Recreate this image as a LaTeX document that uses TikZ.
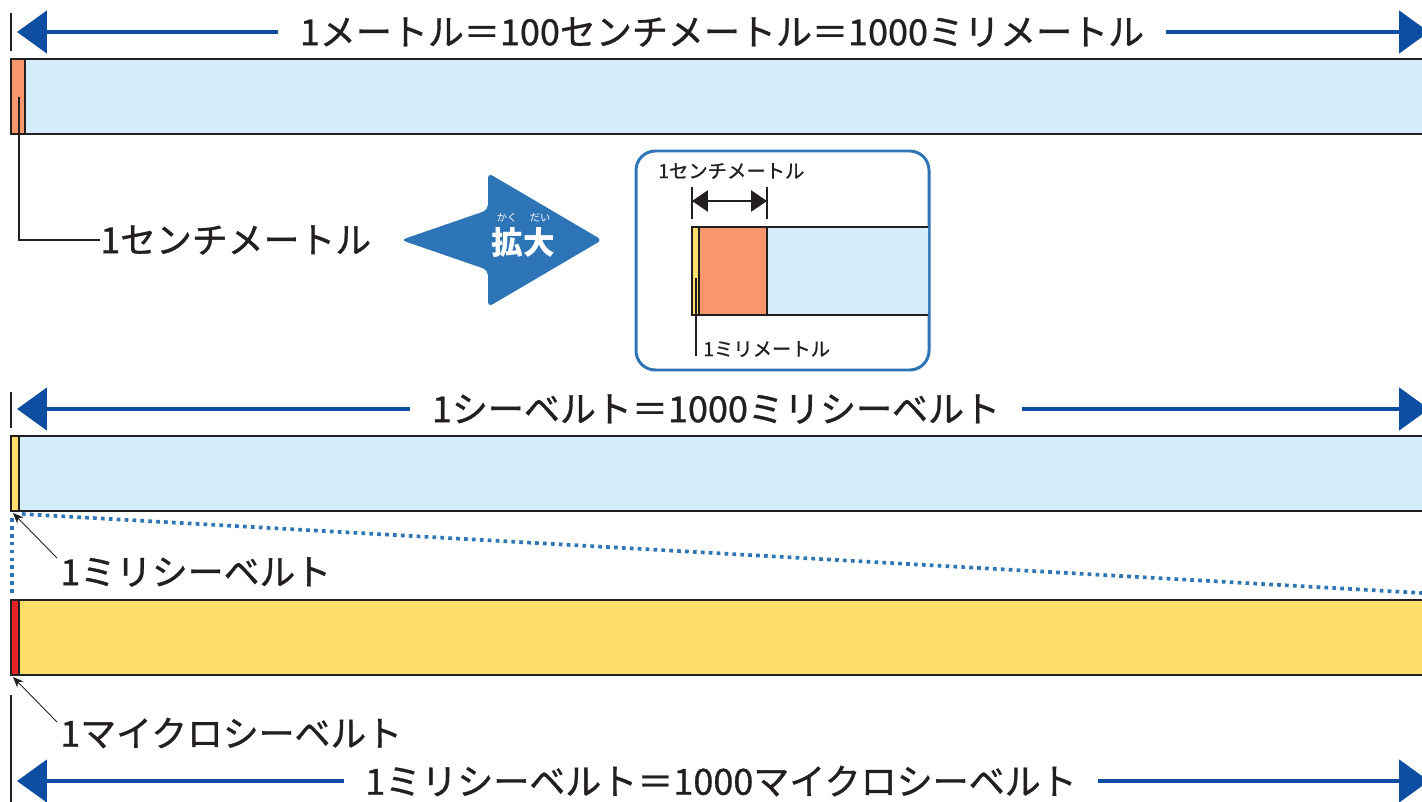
\documentclass[tikz,border=0pt]{standalone}
\usepackage{fontspec}
\newfontfamily\jp[FakeBold=0.9]{Noto Sans CJK JP}
\newfontfamily\jpb{Noto Sans CJK JP}
\usetikzlibrary{arrows.meta}
\definecolor{dimblue}{HTML}{0D4EA2}
\definecolor{barblue}{HTML}{D5ECFA}
\definecolor{orng}{HTML}{F7976B}
\definecolor{yel}{HTML}{FFDE6B}
\definecolor{rd}{HTML}{E4232A}
\definecolor{midblue}{HTML}{2E75B8}
\definecolor{ink}{HTML}{231F20}
\begin{document}
\begin{tikzpicture}[x=0.02cm,y=-0.02cm,
  big/.style={font=\jp\fontsize{20.5}{24}\selectfont, text=ink, inner xsep=12pt, inner ysep=0pt},
  label/.style={font=\jp\fontsize{20.4}{24}\selectfont, text=ink, inner sep=0pt, anchor=west},
  small/.style={font=\jp\fontsize{11}{13}\selectfont, text=ink, inner sep=0pt, anchor=west},
  dimline/.style={draw=dimblue, line width=2.3pt, -{Triangle[length=17pt,width=24pt]}},
  barline/.style={draw=ink, line width=1.1pt},
  tickline/.style={draw=ink, line width=0.9pt},
  leadline/.style={draw=ink, line width=0.85pt},
  pointer/.style={draw=ink, line width=0.5pt, -{Stealth[length=6pt,width=5pt]}},
  dotline/.style={draw=midblue, line width=2.1pt, dash pattern=on 2.1pt off 2.4pt},
  smalldim/.style={draw=ink, line width=1pt, {Triangle[length=9pt,width=12pt]}-{Triangle[length=9pt,width=12pt]}}
]
\useasboundingbox (0,0) rectangle (1422,801);
\clip (0,0) rectangle (1422,801);

% ---------- top section ----------
\node[big] (t1) at (722,32) {1メートル＝100センチメートル＝1000ミリメートル};
\coordinate (t1l) at (17,32);
\coordinate (t1r) at (1429,32);
\draw[dimline] (t1.west) -- (t1l);
\draw[dimline] (t1.east) -- (t1r);
\draw[tickline] (11,13) -- (11,51);

\fill[barblue] (11,59) rectangle (1440,134);
\fill[orng] (11,59) rectangle (25,134);
\draw[barline] (25,59) -- (25,134);
\draw[barline] (1440,59) -- (11,59) -- (11,134) -- (1440,134);

\node[label] (cm) at (100,240) {1センチメートル};
\coordinate (cmtop) at (19,97);
\draw[leadline] (cmtop) |- (cm.west);

% ---------- enlarge arrow ----------
\fill[midblue, rounded corners=3pt] (401,240) -- (488,210) -- (488,173) -- (602,240) -- (488,307) -- (488,270) -- cycle;
\node[font=\jpb\fontsize{18}{20}\selectfont\bfseries, text=white, inner sep=0pt] (kd) at (523,242) {拡大};
\node[font=\jpb\fontsize{5.8}{7}\selectfont, text=white, inner sep=0pt] (r1) at (507,218) {かく};
\node[font=\jpb\fontsize{5.8}{7}\selectfont, text=white, inner sep=0pt] (r2) at (540,218) {だい};

% ---------- inset ----------
\draw[midblue, line width=1.7pt, rounded corners=11pt] (636,151) rectangle (929,370);
\begin{scope}
\clip (636,151) rectangle (928,370);
\fill[barblue] (692,227) rectangle (940,315);
\fill[orng] (699,227) rectangle (767,315);
\fill[yel] (692,227) rectangle (699,315);
\draw[barline] (699,227) -- (699,315);
\draw[barline] (767,227) -- (767,315);
\draw[barline] (940,227) -- (692,227) -- (692,315) -- (940,315);
\end{scope}
\node[small] (icm) at (658,171) {1センチメートル};
\coordinate (d1) at (692,201);
\coordinate (d2) at (767,201);
\draw[tickline] (692,187) -- (692,219);
\draw[tickline] (767,187) -- (767,219);
\draw[smalldim] (d1) -- (d2);
\node[small] (imm) at (703,349) {1ミリメートル};
\coordinate (mmtop) at (696,278);
\draw[tickline] (mmtop) -- (696,356);

% ---------- second section ----------
\node[big] (t2) at (716,409) {1シーベルト＝1000ミリシーベルト};
\coordinate (t2l) at (17,409);
\coordinate (t2r) at (1429,409);
\draw[dimline] (t2.west) -- (t2l);
\draw[dimline] (t2.east) -- (t2r);
\draw[tickline] (11,392) -- (11,428);

\fill[barblue] (11,436) rectangle (1440,511);
\fill[yel] (11,436) rectangle (19,511);
\draw[barline] (19,436) -- (19,511);
\draw[barline] (1440,436) -- (11,436) -- (11,511) -- (1440,511);

\coordinate (z1) at (22,514);
\coordinate (z2) at (1440,594);
\coordinate (z3) at (12,518);
\coordinate (z4) at (12,595);
\draw[dotline] (z1) -- (z2);
\draw[dotline] (z3) -- (z4);

\node[label] (msv) at (60,572) {1ミリシーベルト};
\coordinate (msvp) at (13,513);
\draw[pointer] (57,558) -- (msvp);

\fill[yel] (11,600) rectangle (1440,675);
\fill[rd] (11,600) rectangle (19,675);
\draw[barline] (19,600) -- (19,675);
\draw[barline] (1440,600) -- (11,600) -- (11,675) -- (1440,675);

\node[label] (usv) at (60,733) {1マイクロシーベルト};
\coordinate (usvp) at (13,677);
\draw[pointer] (57,722) -- (usvp);

% ---------- bottom section ----------
\node[big] (t3) at (721,781) {1ミリシーベルト＝1000マイクロシーベルト};
\coordinate (t3l) at (17,781);
\coordinate (t3r) at (1429,781);
\draw[dimline] (t3.west) -- (t3l);
\draw[dimline] (t3.east) -- (t3r);
\draw[tickline] (11,695) -- (11,810);
\end{tikzpicture}
\end{document}
